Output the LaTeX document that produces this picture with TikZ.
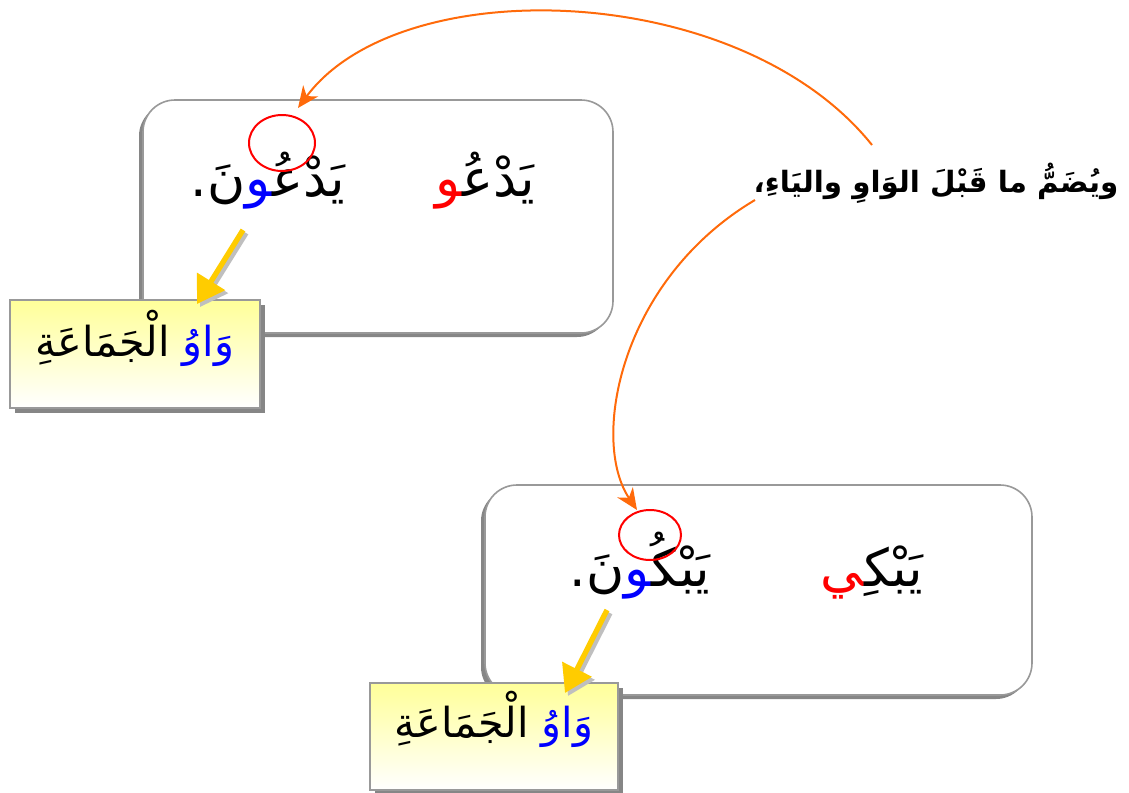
\documentclass[tikz,border=0pt]{standalone}
\usepackage{fontspec}
\usetikzlibrary{shapes.geometric,shadows,arrows.meta}
\TeXXeTstate=1
\newfontfamily\ar[Script=Arabic]{DejaVu Sans}
\def\zwj{^^^^200d}
\newcommand\arbox[1]{\hbox{\beginR #1\endR}}
\definecolor{arrorange}{HTML}{FF6A0A}
\definecolor{arryellow}{HTML}{FFCC00}
\definecolor{paleyellow}{HTML}{FFFF99}
\tikzset{
  wordbox/.style={draw=gray!80, line width=1.2pt, rounded corners=24pt, fill=white,
    drop shadow={shadow xshift=-3pt, shadow yshift=-3pt, fill=gray!95, opacity=1}},
  labelbox/.style={draw=gray!80, line width=1.1pt, top color=paleyellow, bottom color=white,
    drop shadow={shadow xshift=3.5pt, shadow yshift=-3.5pt, fill=gray!95, opacity=1}},
  word/.style={font=\ar\fontsize{39}{44}\selectfont, inner sep=0pt, anchor=base},
  lbl/.style={font=\ar\fontsize{31}{36}\selectfont, inner sep=0pt, anchor=base},
  ring/.style={draw=red, line width=1.5pt, ellipse, inner sep=0pt},
  curved/.style={draw=arrorange, line width=1.5pt, -{Stealth[length=16pt,width=14pt,inset=5pt]}},
  fat/.style={draw=arryellow, line width=4pt, -{Triangle[length=20pt,width=24pt]}},
  fatshadow/.style={draw=gray!50, line width=4pt, -{Triangle[length=20pt,width=24pt]}}
}
\begin{document}
\begin{tikzpicture}[x=0.75pt,y=-0.75pt]
\useasboundingbox (0,0) rectangle (1129,793);
% boxes
\node[wordbox, minimum width=352.5pt, minimum height=174.75pt] (b1) at (378,216.5) {};
\node[wordbox, minimum width=410.25pt, minimum height=157.5pt] (b2) at (758.5,590) {};
% words (pieces set in visual order, left to right)
\node[word] (w1) at (485,196) {\textcolor{red}{\arbox{\zwj و}}\arbox{يَدْعُ\zwj}};
\node[word] (w2) at (268,196) {\hbox{.}\arbox{نَ}\textcolor{blue}{\arbox{\zwj و}}\arbox{يَدْعُ\zwj}};
\node[word] (w3) at (872,586) {\textcolor{red}{\arbox{\zwj ي}}\arbox{يَبْكِ\zwj}};
\node[word] (w4) at (640,586) {\hbox{.}\arbox{نَ}\textcolor{blue}{\arbox{\zwj و}}\arbox{يَبْكُ\zwj}};
% rings
\node[ring, minimum width=49.5pt, minimum height=42pt] (r1) at (282,143) {};
\node[ring, minimum width=46.5pt, minimum height=37.5pt] (r2) at (650,535) {};
% main text
\node[font=\ar\bfseries\fontsize{22}{26}\selectfont, inner sep=0pt, anchor=base] (t) at (936,192)
  {\beginR ويُضَمُّ ما قَبْلَ الوَاوِ واليَاءِ،\endR};
% label boxes
\node[labelbox, minimum width=187.5pt, minimum height=81pt] (l1) at (135,354) {};
\node[lbl] (l1t) at (135,356) {\arbox{الْجَمَاعَةِ}\ \textcolor{blue}{\arbox{وَاوُ}}};
\node[labelbox, minimum width=186pt, minimum height=80.25pt] (l2) at (494,736.5) {};
\node[lbl] (l2t) at (494,737) {\arbox{الْجَمَاعَةِ}\ \textcolor{blue}{\arbox{وَاوُ}}};
% connector coordinates
\coordinate (s1) at (872,145);
\coordinate (e1) at (298,108);
\coordinate (s2) at (755,200);
\coordinate (e2) at (637,510);
\coordinate (y1s) at (243,230);
\coordinate (y1e) at (197,304);
\coordinate (y2s) at (607,610);
\coordinate (y2e) at (565,693);
% orange curves
\draw[curved] (s1) .. controls (740,-20) and (400,-30) .. (e1);
\draw[curved] (s2) .. controls (620,280) and (590,440) .. (e2);
% yellow arrows with shadow
\draw[fatshadow] ([shift={(3,3)}]y1s) -- ([shift={(3,3)}]y1e);
\draw[fat] (y1s) -- (y1e);
\draw[fatshadow] ([shift={(3,3)}]y2s) -- ([shift={(3,3)}]y2e);
\draw[fat] (y2s) -- (y2e);
\end{tikzpicture}
\end{document}
